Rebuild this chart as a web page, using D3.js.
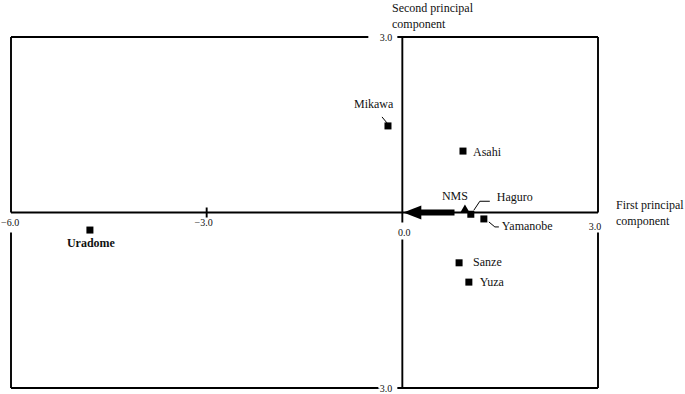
<!DOCTYPE html>
<html><head><meta charset="utf-8">
<script src="https://cdn.jsdelivr.net/npm/d3@7"></script>
<style>html,body{margin:0;padding:0;background:#fff;}svg{display:block;}</style>
</head><body><svg id="c" width="685" height="394"></svg>
<script>
// ---- data ----
const sites = ["Uradome","Mikawa","Asahi","Haguro","Yamanobe","Sanze","Yuza"];
const pc1   = [-4.79, -0.22, 0.93, 1.05, 1.25, 0.87, 1.02];
const pc2   = [-0.30,  1.48, 1.05, -0.03, -0.11, -0.86, -1.19];
const nmsName = "NMS";
const nmsPoint = [0.96, 0.04];
const arrowFrom = [0.80, 0];
const arrowTo = [0.0, 0];
const xDomain = [-6, 3];
const yDomain = [-3, 3];
const xTicks = [-6, -3, 0, 3];
const yTicks = [-3, 0, 3];
const xTitle = ["First principal", "component"];
const yTitle = ["Second principal", "component"];

// ---- layout ----
const FONT = "Liberation Serif";
const svg = d3.select("#c");
const x = d3.scaleLinear().domain(xDomain).range([11, 598]);
const y = d3.scaleLinear().domain(yDomain).range([388, 37]);
const X0 = x(0), Y0 = y(0);
const fmt = v => (v < 0 ? "\u2212" : "") + Math.abs(v).toFixed(1);
const sw = 1.9;
const line = (x1,y1,x2,y2) => svg.append("line").attr("x1",x1).attr("y1",y1).attr("x2",x2).attr("y2",y2)
  .attr("stroke","#000").attr("stroke-width",sw);
const text = (sel, tx, ty, s, size) => sel.append("text").attr("font-family", FONT).attr("font-size", size)
  .attr("x", tx).attr("y", ty).attr("fill", "#111").text(s);

// frame & axes
const xL = x(xDomain[0]), xR = x(xDomain[1]), yT = y(yDomain[1]), yB = y(yDomain[0]);
line(xL, yT, X0 - 34, yT);
line(X0 - 5, yT, xR, yT);
line(xL, yB, X0 - 24, yB);
line(X0 - 5, yB, xR, yB);
line(xL, yT, xL, Y0);
line(xL, Y0 + 20, xL, yB);
line(xR, yT, xR, Y0);
line(xR, Y0 + 20, xR, yB);
line(xL, Y0, xR, Y0);
line(X0, yT, X0, Y0 + 10);
line(X0, Y0 + 27, X0, yB);
line(x(-3), Y0 - 5, x(-3), Y0 + 5);

// tick labels
const tl = svg.append("g");
xTicks.forEach(v => {
  let ty = v === 0 ? Y0 + 23 : (v === xDomain[1] ? Y0 + 17 : Y0 + 13);
  if (v === xDomain[0]) {
    text(tl, 1, ty, fmt(v), 10).attr("text-anchor","start");
  } else {
    let tx = x(v) + (v === 0 ? 2 : -3);
    text(tl, tx, ty, fmt(v), 10).attr("text-anchor","middle");
  }
});
yTicks.filter(v => v !== 0).forEach(v => {
  text(tl, X0 - 10, y(v) + 4, fmt(v), 10).attr("text-anchor","end");
});

// axis titles
const tt = svg.append("g");
yTitle.forEach((t,i) => text(tt, 392, 12 + i*16, t, 12));
xTitle.forEach((t,i) => text(tt, 616, 209 + i*16, t, 12));

// arrow
svg.append("line").attr("x1", x(arrowFrom[0])).attr("y1", y(arrowFrom[1]))
  .attr("x2", x(arrowTo[0]) + 16).attr("y2", y(arrowTo[1]))
  .attr("stroke","#000").attr("stroke-width",6);
const ax = x(arrowTo[0]) + 1, ay = y(arrowTo[1]);
svg.append("path").attr("d", `M${ax},${ay} L${ax+18},${ay-7} L${ax+18},${ay+7} Z`).attr("fill","#000");

// NMS triangle
const nx = x(nmsPoint[0]), ny = y(nmsPoint[1]);
svg.append("path").attr("d", d3.symbol().type(d3.symbolTriangle).size(42)())
  .attr("transform", `translate(${nx},${ny})`).attr("fill","#000");
text(svg, nx - 10, ny - 10, nmsName, 12).attr("text-anchor","middle");

// points
const labelPos = {
  Uradome:  {dx:-23, dy:17, bold:true},
  Mikawa:   {dx:-34, dy:-18, lead:[[-6,-9],[-1,-3]]},
  Asahi:    {dx:10, dy:5},
  Haguro:   {dx:26, dy:-13, lead:[[3,-4],[9,-13],[19,-13]]},
  Yamanobe: {dx:18, dy:11, lead:[[5,3],[11,8],[15,8]]},
  Sanze:    {dx:14, dy:3},
  Yuza:     {dx:11, dy:4}
};
const data = sites.map((s,i) => ({name:s, px:pc1[i], py:pc2[i]}));
const g = svg.append("g");
data.forEach(d => {
  const cx = x(d.px), cy = y(d.py), L = labelPos[d.name];
  g.append("rect").attr("x", cx-3.5).attr("y", cy-3.5).attr("width",7).attr("height",7).attr("fill","#000");
  if (L.lead) {
    g.append("path").attr("d", d3.line()(L.lead.map(p => [cx+p[0], cy+p[1]])))
      .attr("fill","none").attr("stroke","#000").attr("stroke-width",1);
  }
  text(g, cx + L.dx, cy + L.dy, d.name, 12).attr("font-weight", L.bold ? "bold" : "normal");
});
</script></body></html>
